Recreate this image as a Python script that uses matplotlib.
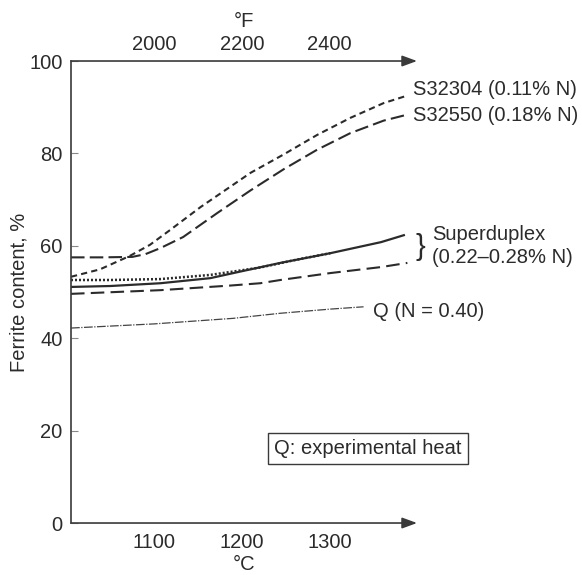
import numpy as np
import matplotlib
matplotlib.use('Agg')
import matplotlib.pyplot as plt

# ---- data (temperature in degC, ferrite in %) ----
s32304_t = [1005, 1038, 1072, 1095, 1118, 1153, 1190, 1210, 1248, 1286, 1324, 1362, 1387]
s32304_f = [53.3, 54.9, 57.8, 60.2, 63.4, 68.4, 73.2, 75.8, 79.8, 84.0, 87.7, 90.9, 92.4]

s32550_t = [1005, 1040, 1075, 1090, 1107, 1133, 1172, 1210, 1248, 1286, 1324, 1362, 1387]
s32550_f = [57.5, 57.5, 57.6, 58.2, 59.5, 61.9, 67.1, 72.0, 76.6, 80.8, 84.4, 87.1, 88.3]

sdx_solid_t = [1005, 1050, 1107, 1164, 1200, 1244, 1301, 1359, 1385]
sdx_solid_f = [51.1, 51.3, 51.9, 53.0, 54.5, 56.3, 58.4, 60.8, 62.3]

sdx_dot_t = [1005, 1050, 1107, 1164, 1221, 1260, 1301]
sdx_dot_f = [52.6, 52.6, 52.8, 53.7, 55.3, 56.9, 58.4]

sdx_dash_t = [1005, 1107, 1187, 1221, 1244, 1301, 1359, 1389]
sdx_dash_f = [49.6, 50.4, 51.4, 51.9, 52.6, 54.1, 55.4, 56.3]

q_t = [1005, 1100, 1190, 1244, 1301, 1339]
q_f = [42.2, 43.1, 44.3, 45.4, 46.3, 46.8]

c_ticks = [1100, 1200, 1300]
f_labels = ['2000', '2200', '2400']
y_ticks = [0, 20, 40, 60, 80, 100]

# ---- figure ----
plt.rcParams['font.family'] = ['Liberation Sans', 'DejaVu Sans']
fs = 14.5
ink = '#2b2b2b'
axc = '#3a3a3a'

fig = plt.figure(figsize=(5.82, 5.75), dpi=100)
ax = fig.add_axes([0.122, 0.0904, 0.5945, 0.8035])
ax.set_xlim(1005, 1400)
ax.set_ylim(0, 100)

ax.plot(s32304_t, s32304_f, color=ink, lw=1.5, ls=(0, (3, 2)))
ax.plot(s32550_t, s32550_f, color=ink, lw=1.5, ls=(0, (6.5, 2.5)))
ax.plot(sdx_dot_t, sdx_dot_f, color=ink, lw=1.8, ls=(0, (0.8, 0.8)))
ax.plot(sdx_solid_t, sdx_solid_f, color=ink, lw=1.6)
ax.plot(sdx_dash_t, sdx_dash_f, color=ink, lw=1.5, ls=(0, (6.5, 3)))
ax.plot(q_t, q_f, color='#444444', lw=0.9, ls=(0, (7, 1.2, 1, 1.2)))

# spines / axes arrows
for s in ['top', 'right', 'bottom']:
    ax.spines[s].set_visible(False)
ax.spines['left'].set_color(axc)
ax.spines['left'].set_linewidth(1.2)
arr = dict(arrowstyle='-|>,head_length=0.6,head_width=0.22', color=axc, lw=1.2,
           shrinkA=0, shrinkB=0, mutation_scale=15)
ax.annotate('', xy=(1.0, 0.0), xytext=(0.0, 0.0), xycoords='axes fraction', arrowprops=arr)
ax.annotate('', xy=(1.0, 1.0), xytext=(0.0, 1.0), xycoords='axes fraction', arrowprops=arr)

ax.set_yticks(y_ticks)
ax.tick_params(axis='y', direction='in', length=5, width=0.8, color='#888888',
               labelsize=fs, pad=6, labelcolor=ink)
ax.set_xticks(c_ticks)
ax.tick_params(axis='x', length=0, labelsize=fs, pad=7, labelcolor=ink)
ax.set_xlabel('°C', fontsize=fs, color=ink, labelpad=2)
ax.set_ylabel('Ferrite content, %', fontsize=fs, color=ink, labelpad=0.5)

# top Fahrenheit scale
top = ax.twiny()
top.set_xlim(ax.get_xlim())
top.set_xticks(c_ticks)
top.set_xticklabels(f_labels)
top.tick_params(axis='x', length=0, labelsize=fs, pad=5, labelcolor=ink)
for s in top.spines.values():
    s.set_visible(False)
top.set_xlabel('°F', fontsize=fs, color=ink, labelpad=6)

# curve labels
ax.text(1395, 93.9, 'S32304 (0.11% N)', fontsize=fs, color=ink, va='center', ha='left')
ax.text(1395, 88.2, 'S32550 (0.18% N)', fontsize=fs, color=ink, va='center', ha='left')
ax.text(1404, 59.7, '}', fontsize=21, color=ink, va='center', ha='center', fontweight='light')
ax.text(1417, 62.5, 'Superduplex', fontsize=fs, color=ink, va='center', ha='left')
ax.text(1417, 57.4, '(0.22–0.28% N)', fontsize=fs, color=ink, va='center', ha='left')
ax.text(1350, 45.7, 'Q (N = 0.40)', fontsize=fs, color=ink, va='center', ha='left')
ax.text(1344, 16.2, 'Q: experimental heat', fontsize=fs, color=ink, va='center', ha='center',
        bbox=dict(boxstyle='square,pad=0.3', fc='white', ec=axc, lw=1.0))

fig.savefig('out.png', dpi=100)
